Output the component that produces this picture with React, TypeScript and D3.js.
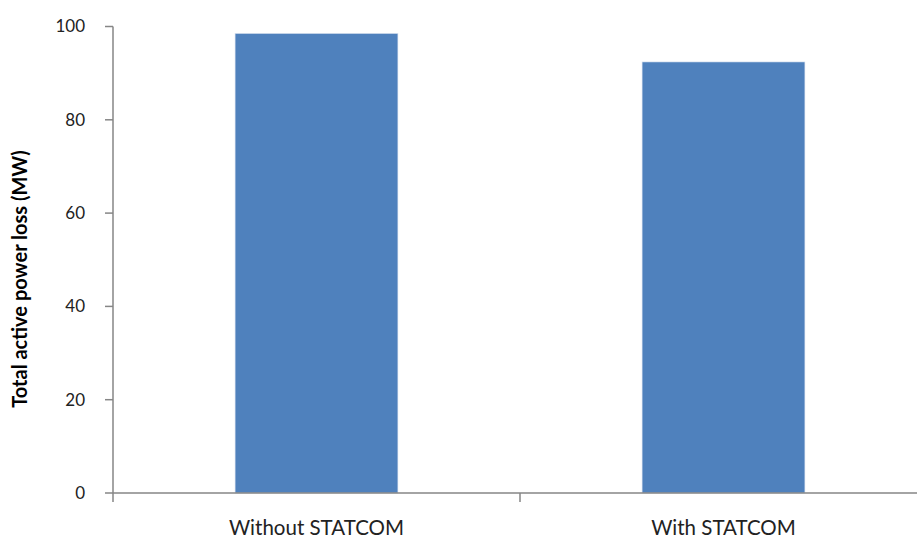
import React from "react";
import * as d3 from "d3";

const categories = ["Without STATCOM", "With STATCOM"];
const values = [98.5, 92.4];
const yTicks = [0, 20, 40, 60, 80, 100];
const yLabel = "Total active power loss (MW)";

export default function App() {
  const W = 917, H = 539;
  const left = 113, right = 927, top = 26.5, bottom = 493;
  const x = d3.scaleBand<string>().domain(categories).range([left, right]).paddingInner(0.6).paddingOuter(0.3);
  const y = d3.scaleLinear().domain([0, 100]).range([bottom, top]);
  const step = x.step();
  const axisColor = "#868686";
  const font = "Lato, 'Open Sans', sans-serif";
  return (
    <svg width={W} height={H} style={{ position: "absolute", left: 0, top: 0, background: "#fff" }}>
      {categories.map((c, i) => (
        <rect key={c} x={x(c)!} y={y(values[i])} width={x.bandwidth()} height={y(0) - y(values[i])} fill="#4F81BD" stroke="#d4deed" strokeWidth={0.6} />
      ))}
      <line x1={left} x2={left} y1={top} y2={bottom + 9} stroke={axisColor} strokeWidth={1.5} />
      <line x1={left} x2={W} y1={bottom} y2={bottom} stroke={axisColor} strokeWidth={1.5} />
      {yTicks.map((t) => (
        <g key={t}>
          <line x1={left - 8} x2={left} y1={y(t)} y2={y(t)} stroke={axisColor} strokeWidth={1.5} />
          <text x={left - 28} y={y(t)} dy="0.35em" textAnchor="end" fontSize={17} fontFamily={font} fill="#222">{t}</text>
        </g>
      ))}
      {categories.slice(1).map((c) => (
        <line key={c} x1={x(c)! - (step - x.bandwidth()) / 2} x2={x(c)! - (step - x.bandwidth()) / 2} y1={bottom} y2={bottom + 9} stroke={axisColor} strokeWidth={1.5} />
      ))}
      {categories.map((c) => (
        <text key={c} x={x(c)! + x.bandwidth() / 2} y={535} textAnchor="middle" fontSize={20.5} fontFamily={font} fill="#222">{c}</text>
      ))}
      <text transform={`translate(27, 279) rotate(-90)`} textAnchor="middle" fontSize={20} fontWeight="bold" fontFamily={font} fill="#000">{yLabel}</text>
    </svg>
  );
}
